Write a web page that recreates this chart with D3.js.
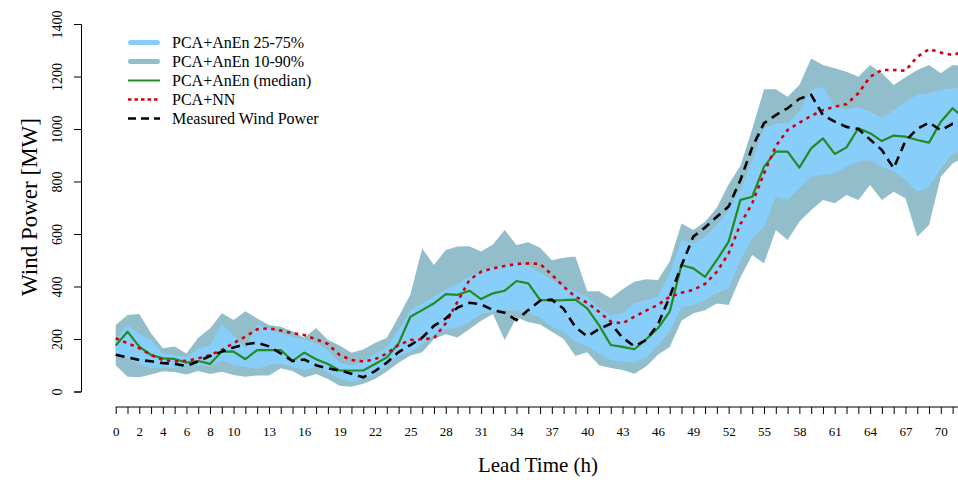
<!DOCTYPE html>
<html>
<head>
<meta charset="utf-8">
<script src="https://cdn.jsdelivr.net/npm/d3@7"></script>
<style>
  html, body { margin: 0; padding: 0; background: #fff; }
  svg { display: block; }
  text { font-family: "Liberation Serif", "Times New Roman", serif; fill: #000; }
</style>
</head>
<body>
<svg id="chart" width="958" height="480"></svg>
<script>
// Lead time in hours
const leadTime = d3.range(0, 73);

// Analog-ensemble quantiles (MW)
const p10 = [100,56,54,65,77,74,65,78,67,75,63,56,61,61,89,78,53,67,48,22,
             18,30,48,76,110,137,150,200,218,206,237,270,295,196,282,265,255,228,200,135,
             150,100,90,82,68,95,140,170,270,298,310,335,330,435,520,488,615,577,647,691,
             730,717,749,730,787,730,761,736,590,634,818,869,890];
const p25 = [145,126,105,90,92,90,100,100,97,118,100,94,86,101,105,94,80,95,72,48,
             37,47,66,98,136,152,180,215,238,244,265,295,304,310,310,298,283,247,228,190,
             171,145,120,114,110,130,175,230,320,330,349,374,393,500,584,628,742,730,774,818,
             825,831,856,875,882,856,837,806,761,780,850,907,920];
const p75 = [200,252,220,196,145,139,130,163,175,258,212,165,256,241,222,209,200,184,158,110,
             100,115,142,170,234,310,335,361,390,410,440,455,475,480,492,478,453,425,399,380,
             360,320,290,298,336,349,361,450,577,565,590,634,691,770,880,1003,1022,1022,1066,1149,
             1161,1085,1072,1085,1066,1041,1072,1104,1130,1136,1149,1155,1155];
const p90 = [253,291,295,222,165,171,145,205,240,298,272,306,278,253,247,230,205,242,196,175,
             148,160,185,205,285,370,545,482,539,552,553,533,560,615,558,569,548,500,510,514,
             382,382,355,390,418,428,425,495,640,615,647,700,790,860,1000,1151,1151,1123,1168,1269,
             1244,1231,1218,1199,1244,1212,1168,1197,1225,1244,1212,1244,1240];
const median = [175,228,171,139,126,124,110,116,105,152,152,123,158,158,158,117,148,123,105,80,
                80,80,105,130,183,285,310,336,371,368,384,352,374,384,421,412,349,347,348,350,
                317,253,177,170,161,199,241,304,482,469,437,501,571,730,742,856,914,914,853,926,
                964,905,930,1003,984,954,975,971,958,948,1028,1079,1040];

// Nearest-neighbour forecast and observations (MW)
const pcaNN = [203,184,165,139,120,114,117,126,139,158,184,209,237,241,232,222,215,199,181,139,
               120,114,123,145,177,196,199,203,260,342,425,456,469,478,486,488,486,445,400,361,
               338,304,266,260,285,308,330,361,376,387,410,456,526,638,717,831,935,996,1024,1050,
               1072,1085,1095,1136,1199,1225,1225,1222,1275,1304,1291,1282,1295];
const measured = [140,130,120,115,108,105,97,115,135,152,168,180,186,172,145,116,122,100,88,80,
                  68,54,78,110,150,177,205,250,278,320,338,332,310,300,272,310,346,350,315,245,
                  210,238,258,205,172,196,255,361,480,590,625,666,705,806,930,1022,1053,1079,1115,1130,
                  1053,1028,1008,1000,960,920,850,955,1000,1025,995,1020,1005];

// Axis ticks and labels
const yTicks = [0, 200, 400, 600, 800, 1000, 1200, 1400];
const xLabelHours = [0,2,4,6,8,10,13,16,19,22,25,28,31,34,37,40,43,46,49,52,55,58,61,64,67,70];

// Legend entries
const legendLabels = ["PCA+AnEn 25-75%", "PCA+AnEn 10-90%", "PCA+AnEn (median)", "PCA+NN", "Measured Wind Power"];

const COL_INNER = "#87CEFA";
const COL_OUTER = "#92BECB";
const COL_MED = "#228B22";
const COL_NN = "#D0000C";
const COL_MEAS = "#000000";

const svg = d3.select("#chart");

const x = d3.scaleLinear().domain([0, 72]).range([115.7, 964.4]);
const y = d3.scaleLinear().domain([0, 1400]).range([391.5, 24]);

const rows = leadTime.map((h, i) => ({
  h, p10: p10[i], p25: p25[i], p75: p75[i], p90: p90[i],
  med: median[i], nn: pcaNN[i], obs: measured[i]
}));

// Quantile bands: outer (10-90%) underneath, inner (25-75%) on top
const band = (lo, hi) => d3.area()
  .x(d => x(d.h)).y0(d => y(d[lo])).y1(d => y(d[hi]));

svg.append("path")
  .attr("d", band("p10", "p90")(rows))
  .attr("fill", COL_OUTER);
svg.append("path")
  .attr("d", band("p25", "p75")(rows))
  .attr("fill", COL_INNER);

// Forecast and observation lines
const line = key => d3.line().x(d => x(d.h)).y(d => y(d[key]));

svg.append("path").attr("d", line("med")(rows))
  .attr("fill", "none").attr("stroke", COL_MED).attr("stroke-width", 2.2)
  .attr("stroke-linejoin", "round");
svg.append("path").attr("d", line("nn")(rows))
  .attr("fill", "none").attr("stroke", COL_NN).attr("stroke-width", 2.6)
  .attr("stroke-dasharray", "3.5,4.5");
svg.append("path").attr("d", line("obs")(rows))
  .attr("fill", "none").attr("stroke", COL_MEAS).attr("stroke-width", 2.6)
  .attr("stroke-dasharray", "9,6");

// Y axis with rotated labels
const yAxisX = 81;
const gy = svg.append("g").attr("transform", `translate(${yAxisX},0)`)
  .call(d3.axisLeft(y).tickValues(yTicks).tickSize(7).tickPadding(0).tickFormat(d3.format("d")));
gy.select(".domain").attr("stroke", "#000").attr("stroke-width", 1);
gy.selectAll(".tick line").attr("stroke", "#000");
gy.selectAll(".tick text")
  .attr("font-size", 14)
  .attr("font-family", "Liberation Serif")
  .attr("text-anchor", "middle")
  .attr("x", 0).attr("dy", 0)
  .attr("transform", "translate(-19,0) rotate(-90)");

// X axis: a tick every hour, labels on selected hours
const xAxisY = 407;
const gx = svg.append("g").attr("transform", `translate(0,${xAxisY})`)
  .call(d3.axisBottom(x).tickValues(leadTime).tickSize(7).tickPadding(13)
    .tickFormat(d => xLabelHours.includes(d) ? d : ""));
gx.select(".domain").attr("stroke", "#000").attr("stroke-width", 1).attr("d", `M${x(0)},0H${x(72)}`);
gx.selectAll(".tick line").attr("stroke", "#000").attr("y1", 0).attr("y2", 7);
gx.selectAll(".tick text").attr("font-size", 13).attr("font-family", "Liberation Serif");

// Axis titles
svg.append("text")
  .attr("x", 538).attr("y", 472)
  .attr("text-anchor", "middle").attr("font-size", 21)
  .text("Lead Time (h)");
svg.append("text")
  .attr("transform", "translate(37,207) rotate(-90)")
  .attr("text-anchor", "middle").attr("font-size", 23)
  .text("Wind Power [MW]");

// Legend
const legendY = [42.5, 61.5, 80.5, 99.5, 118.5];
const legendStyles = [
  { stroke: COL_INNER, width: 5, dash: null, cap: "round" },
  { stroke: COL_OUTER, width: 5, dash: null, cap: "round" },
  { stroke: COL_MED, width: 2, dash: null, cap: "butt" },
  { stroke: COL_NN, width: 2.4, dash: "3.5,3", cap: "butt" },
  { stroke: COL_MEAS, width: 2.4, dash: "8,5", cap: "butt" }
];
const lg = svg.append("g");
legendLabels.forEach((label, i) => {
  const s = legendStyles[i];
  const ly = legendY[i];
  const inset = s.cap === "round" ? 2.5 : 0;
  lg.append("line")
    .attr("x1", 128 + inset).attr("x2", 160 - inset)
    .attr("y1", ly).attr("y2", ly)
    .attr("stroke", s.stroke).attr("stroke-width", s.width)
    .attr("stroke-linecap", s.cap)
    .attr("stroke-dasharray", s.dash);
  lg.append("text")
    .attr("x", 172).attr("y", ly + 5)
    .attr("font-size", 16)
    .text(label);
});
</script>
</body>
</html>
